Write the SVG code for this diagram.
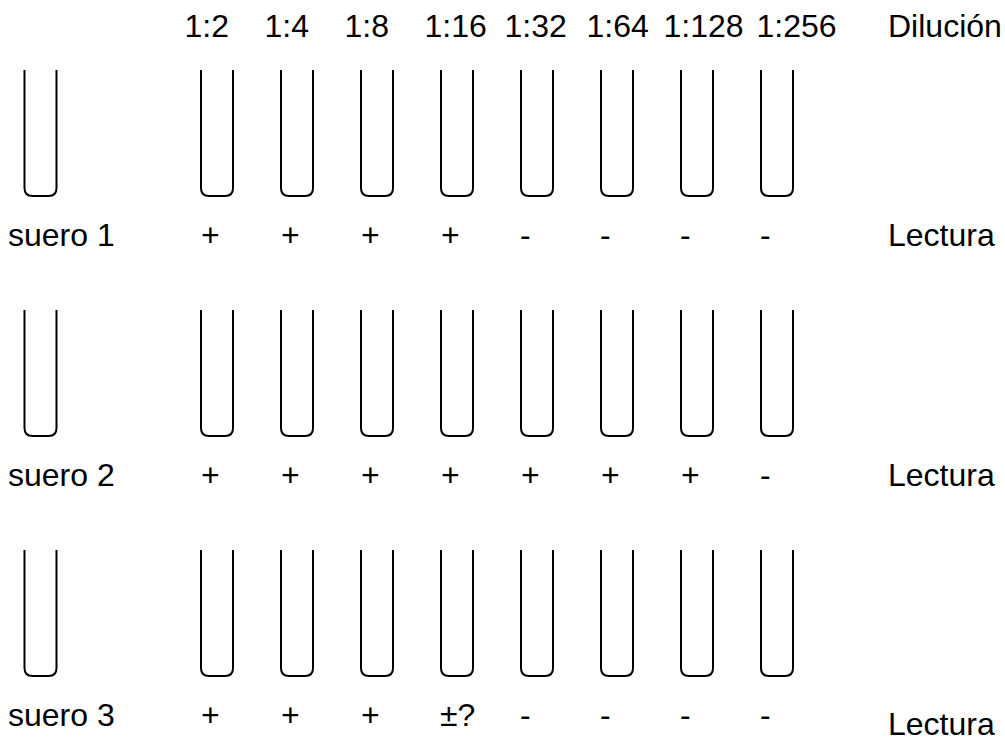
<svg xmlns="http://www.w3.org/2000/svg" xmlns:xlink="http://www.w3.org/1999/xlink" width="1005" height="742" viewBox="0 0 1005 742">
<style>
  text { font-family: "Liberation Sans", Arial, sans-serif; font-size: 32px; fill: #000; }
  .tube { fill: none; stroke: #000; stroke-width: 2; stroke-linecap: butt; stroke-linejoin: round; }
</style>
<defs>
  <path id="tube" class="tube" d="M0,0 V118 Q0,126 8,126 H24 Q32,126 32,118 V0"/>
</defs>
<rect width="1005" height="742" fill="#fff"/>

<g id="header">
  <text x="184.5" y="37">1:2</text>
  <text x="264.5" y="37">1:4</text>
  <text x="344.5" y="37">1:8</text>
  <text x="424.5" y="37">1:16</text>
  <text x="504.5" y="37">1:32</text>
  <text x="586.5" y="37">1:64</text>
  <text x="663.5" y="37">1:128</text>
  <text x="756.5" y="37">1:256</text>
  <text x="888" y="37">Dilución</text>
</g>

<g id="row1">
  <g id="r1-serum"><use xlink:href="#tube" x="24.5" y="70"/></g>
  <g id="r1-t1"><use xlink:href="#tube" x="201" y="70"/></g>
  <g id="r1-t2"><use xlink:href="#tube" x="281" y="70"/></g>
  <g id="r1-t3"><use xlink:href="#tube" x="361" y="70"/></g>
  <g id="r1-t4"><use xlink:href="#tube" x="441" y="70"/></g>
  <g id="r1-t5"><use xlink:href="#tube" x="521" y="70"/></g>
  <g id="r1-t6"><use xlink:href="#tube" x="601" y="70"/></g>
  <g id="r1-t7"><use xlink:href="#tube" x="681" y="70"/></g>
  <g id="r1-t8"><use xlink:href="#tube" x="761" y="70"/></g>
  <text x="8" y="246">suero 1</text>
  <text x="201" y="246">+</text>
  <text x="281" y="246">+</text>
  <text x="361" y="246">+</text>
  <text x="441" y="246">+</text>
  <text x="520" y="246">-</text>
  <text x="600" y="246">-</text>
  <text x="680" y="246">-</text>
  <text x="760" y="246">-</text>
  <text x="888" y="246">Lectura</text>
</g>

<g id="row2">
  <g id="r2-serum"><use xlink:href="#tube" x="24.5" y="310"/></g>
  <g id="r2-t1"><use xlink:href="#tube" x="201" y="310"/></g>
  <g id="r2-t2"><use xlink:href="#tube" x="281" y="310"/></g>
  <g id="r2-t3"><use xlink:href="#tube" x="361" y="310"/></g>
  <g id="r2-t4"><use xlink:href="#tube" x="441" y="310"/></g>
  <g id="r2-t5"><use xlink:href="#tube" x="521" y="310"/></g>
  <g id="r2-t6"><use xlink:href="#tube" x="601" y="310"/></g>
  <g id="r2-t7"><use xlink:href="#tube" x="681" y="310"/></g>
  <g id="r2-t8"><use xlink:href="#tube" x="761" y="310"/></g>
  <text x="8" y="486">suero 2</text>
  <text x="201" y="486">+</text>
  <text x="281" y="486">+</text>
  <text x="361" y="486">+</text>
  <text x="441" y="486">+</text>
  <text x="521" y="486">+</text>
  <text x="601" y="486">+</text>
  <text x="681" y="486">+</text>
  <text x="760" y="486">-</text>
  <text x="888" y="486">Lectura</text>
</g>

<g id="row3">
  <g id="r3-serum"><use xlink:href="#tube" x="24.5" y="550"/></g>
  <g id="r3-t1"><use xlink:href="#tube" x="201" y="550"/></g>
  <g id="r3-t2"><use xlink:href="#tube" x="281" y="550"/></g>
  <g id="r3-t3"><use xlink:href="#tube" x="361" y="550"/></g>
  <g id="r3-t4"><use xlink:href="#tube" x="441" y="550"/></g>
  <g id="r3-t5"><use xlink:href="#tube" x="521" y="550"/></g>
  <g id="r3-t6"><use xlink:href="#tube" x="601" y="550"/></g>
  <g id="r3-t7"><use xlink:href="#tube" x="681" y="550"/></g>
  <g id="r3-t8"><use xlink:href="#tube" x="761" y="550"/></g>
  <text x="8" y="726">suero 3</text>
  <text x="201" y="726">+</text>
  <text x="281" y="726">+</text>
  <text x="361" y="726">+</text>
  <text x="440" y="726">±?</text>
  <text x="520" y="726">-</text>
  <text x="600" y="726">-</text>
  <text x="680" y="726">-</text>
  <text x="760" y="726">-</text>
  <text x="888" y="735">Lectura</text>
</g>

<g id="connectors"/>
</svg>
